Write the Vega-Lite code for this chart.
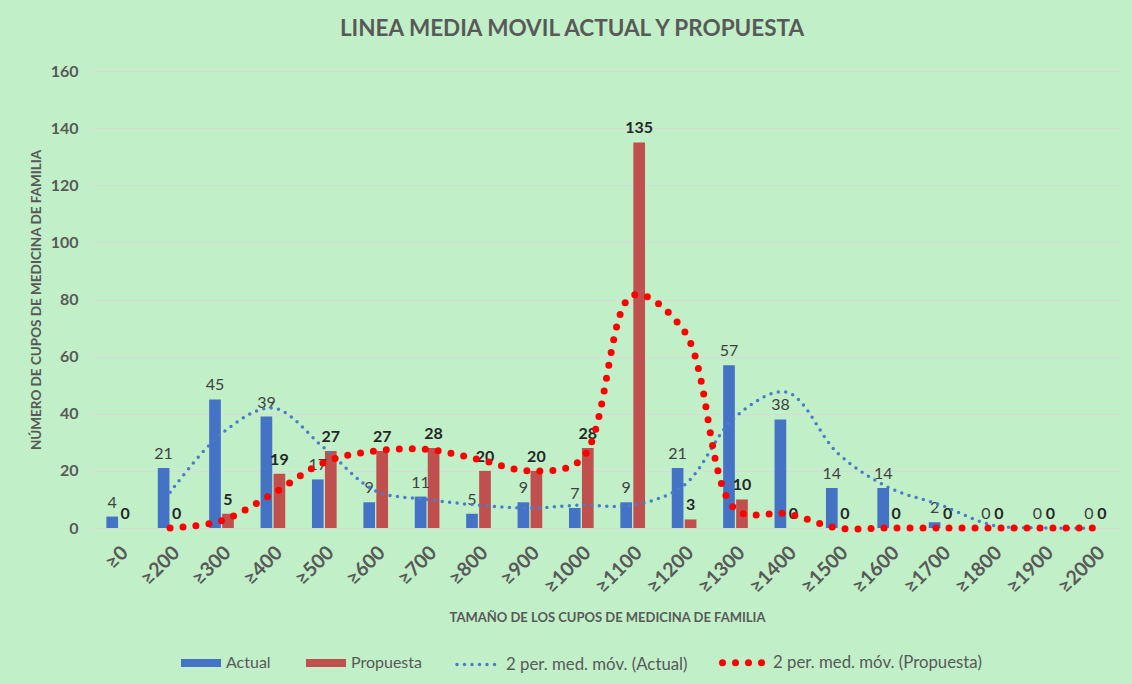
{
  "$schema": "https://vega.github.io/schema/vega-lite/v6.json",
  "width": 1028,
  "height": 457,
  "autosize": {"type": "none"},
  "padding": {"left": 93, "top": 71, "right": 11, "bottom": 156},
  "background": "#c1f0c8",
  "title": {"text": "LINEA MEDIA MOVIL ACTUAL Y PROPUESTA", "fontSize": 22.5, "font": "Lato", "fontWeight": "bold", "color": "#595959", "anchor": "middle", "dx": -35, "offset": 23},
  "config": {
    "view": {"stroke": null},
    "font": "Lato",
    "legend": {"labelFont": "Lato", "labelFontSize": 16, "labelColor": "#595959", "padding": 0, "labelOffset": 5, "labelLimit": 400}
  },
  "datasets": {
    "bars": [
      {"cat": "≥0", "desde": 0, "serie": "Actual", "valor": 4},
      {"cat": "≥0", "desde": 0, "serie": "Propuesta", "valor": 0},
      {"cat": "≥200", "desde": 200, "serie": "Actual", "valor": 21},
      {"cat": "≥200", "desde": 200, "serie": "Propuesta", "valor": 0},
      {"cat": "≥300", "desde": 300, "serie": "Actual", "valor": 45},
      {"cat": "≥300", "desde": 300, "serie": "Propuesta", "valor": 5},
      {"cat": "≥400", "desde": 400, "serie": "Actual", "valor": 39},
      {"cat": "≥400", "desde": 400, "serie": "Propuesta", "valor": 19},
      {"cat": "≥500", "desde": 500, "serie": "Actual", "valor": 17},
      {"cat": "≥500", "desde": 500, "serie": "Propuesta", "valor": 27},
      {"cat": "≥600", "desde": 600, "serie": "Actual", "valor": 9},
      {"cat": "≥600", "desde": 600, "serie": "Propuesta", "valor": 27},
      {"cat": "≥700", "desde": 700, "serie": "Actual", "valor": 11},
      {"cat": "≥700", "desde": 700, "serie": "Propuesta", "valor": 28},
      {"cat": "≥800", "desde": 800, "serie": "Actual", "valor": 5},
      {"cat": "≥800", "desde": 800, "serie": "Propuesta", "valor": 20},
      {"cat": "≥900", "desde": 900, "serie": "Actual", "valor": 9},
      {"cat": "≥900", "desde": 900, "serie": "Propuesta", "valor": 20},
      {"cat": "≥1000", "desde": 1000, "serie": "Actual", "valor": 7},
      {"cat": "≥1000", "desde": 1000, "serie": "Propuesta", "valor": 28},
      {"cat": "≥1100", "desde": 1100, "serie": "Actual", "valor": 9},
      {"cat": "≥1100", "desde": 1100, "serie": "Propuesta", "valor": 135},
      {"cat": "≥1200", "desde": 1200, "serie": "Actual", "valor": 21},
      {"cat": "≥1200", "desde": 1200, "serie": "Propuesta", "valor": 3},
      {"cat": "≥1300", "desde": 1300, "serie": "Actual", "valor": 57},
      {"cat": "≥1300", "desde": 1300, "serie": "Propuesta", "valor": 10},
      {"cat": "≥1400", "desde": 1400, "serie": "Actual", "valor": 38},
      {"cat": "≥1400", "desde": 1400, "serie": "Propuesta", "valor": 0},
      {"cat": "≥1500", "desde": 1500, "serie": "Actual", "valor": 14},
      {"cat": "≥1500", "desde": 1500, "serie": "Propuesta", "valor": 0},
      {"cat": "≥1600", "desde": 1600, "serie": "Actual", "valor": 14},
      {"cat": "≥1600", "desde": 1600, "serie": "Propuesta", "valor": 0},
      {"cat": "≥1700", "desde": 1700, "serie": "Actual", "valor": 2},
      {"cat": "≥1700", "desde": 1700, "serie": "Propuesta", "valor": 0},
      {"cat": "≥1800", "desde": 1800, "serie": "Actual", "valor": 0},
      {"cat": "≥1800", "desde": 1800, "serie": "Propuesta", "valor": 0},
      {"cat": "≥1900", "desde": 1900, "serie": "Actual", "valor": 0},
      {"cat": "≥1900", "desde": 1900, "serie": "Propuesta", "valor": 0},
      {"cat": "≥2000", "desde": 2000, "serie": "Actual", "valor": 0},
      {"cat": "≥2000", "desde": 2000, "serie": "Propuesta", "valor": 0}
    ],
    "medias": [
      {"cat": "≥200", "desde": 200, "media": "2 per. med. móv. (Actual)", "valor": 12.5},
      {"cat": "≥300", "desde": 300, "media": "2 per. med. móv. (Actual)", "valor": 33},
      {"cat": "≥400", "desde": 400, "media": "2 per. med. móv. (Actual)", "valor": 42},
      {"cat": "≥500", "desde": 500, "media": "2 per. med. móv. (Actual)", "valor": 28},
      {"cat": "≥600", "desde": 600, "media": "2 per. med. móv. (Actual)", "valor": 13},
      {"cat": "≥700", "desde": 700, "media": "2 per. med. móv. (Actual)", "valor": 10},
      {"cat": "≥800", "desde": 800, "media": "2 per. med. móv. (Actual)", "valor": 8},
      {"cat": "≥900", "desde": 900, "media": "2 per. med. móv. (Actual)", "valor": 7},
      {"cat": "≥1000", "desde": 1000, "media": "2 per. med. móv. (Actual)", "valor": 8},
      {"cat": "≥1100", "desde": 1100, "media": "2 per. med. móv. (Actual)", "valor": 8},
      {"cat": "≥1200", "desde": 1200, "media": "2 per. med. móv. (Actual)", "valor": 15},
      {"cat": "≥1300", "desde": 1300, "media": "2 per. med. móv. (Actual)", "valor": 39},
      {"cat": "≥1400", "desde": 1400, "media": "2 per. med. móv. (Actual)", "valor": 47.5},
      {"cat": "≥1500", "desde": 1500, "media": "2 per. med. móv. (Actual)", "valor": 26},
      {"cat": "≥1600", "desde": 1600, "media": "2 per. med. móv. (Actual)", "valor": 14},
      {"cat": "≥1700", "desde": 1700, "media": "2 per. med. móv. (Actual)", "valor": 8},
      {"cat": "≥1800", "desde": 1800, "media": "2 per. med. móv. (Actual)", "valor": 1},
      {"cat": "≥1900", "desde": 1900, "media": "2 per. med. móv. (Actual)", "valor": 0},
      {"cat": "≥2000", "desde": 2000, "media": "2 per. med. móv. (Actual)", "valor": 0},
      {"cat": "≥200", "desde": 200, "media": "2 per. med. móv. (Propuesta)", "valor": 0},
      {"cat": "≥300", "desde": 300, "media": "2 per. med. móv. (Propuesta)", "valor": 2.5},
      {"cat": "≥400", "desde": 400, "media": "2 per. med. móv. (Propuesta)", "valor": 12},
      {"cat": "≥500", "desde": 500, "media": "2 per. med. móv. (Propuesta)", "valor": 23},
      {"cat": "≥600", "desde": 600, "media": "2 per. med. móv. (Propuesta)", "valor": 27},
      {"cat": "≥700", "desde": 700, "media": "2 per. med. móv. (Propuesta)", "valor": 27.5},
      {"cat": "≥800", "desde": 800, "media": "2 per. med. móv. (Propuesta)", "valor": 24},
      {"cat": "≥900", "desde": 900, "media": "2 per. med. móv. (Propuesta)", "valor": 20},
      {"cat": "≥1000", "desde": 1000, "media": "2 per. med. móv. (Propuesta)", "valor": 24},
      {"cat": "≥1100", "desde": 1100, "media": "2 per. med. móv. (Propuesta)", "valor": 81.5},
      {"cat": "≥1200", "desde": 1200, "media": "2 per. med. móv. (Propuesta)", "valor": 69},
      {"cat": "≥1300", "desde": 1300, "media": "2 per. med. móv. (Propuesta)", "valor": 6.5},
      {"cat": "≥1400", "desde": 1400, "media": "2 per. med. móv. (Propuesta)", "valor": 5},
      {"cat": "≥1500", "desde": 1500, "media": "2 per. med. móv. (Propuesta)", "valor": 0},
      {"cat": "≥1600", "desde": 1600, "media": "2 per. med. móv. (Propuesta)", "valor": 0},
      {"cat": "≥1700", "desde": 1700, "media": "2 per. med. móv. (Propuesta)", "valor": 0},
      {"cat": "≥1800", "desde": 1800, "media": "2 per. med. móv. (Propuesta)", "valor": 0},
      {"cat": "≥1900", "desde": 1900, "media": "2 per. med. móv. (Propuesta)", "valor": 0},
      {"cat": "≥2000", "desde": 2000, "media": "2 per. med. móv. (Propuesta)", "valor": 0}
    ]
  },
  "encoding": {
    "x": {
      "field": "cat",
      "type": "nominal",
      "scale": {
        "domain": ["≥0", "≥200", "≥300", "≥400", "≥500", "≥600", "≥700", "≥800", "≥900", "≥1000", "≥1100", "≥1200", "≥1300", "≥1400", "≥1500", "≥1600", "≥1700", "≥1800", "≥1900", "≥2000"],
        "paddingInner": 0.52,
        "paddingOuter": 0.26
      },
      "axis": {
        "title": "TAMAÑO DE LOS CUPOS DE MEDICINA DE FAMILIA",
        "titleFont": "Lato",
        "titleFontSize": 13,
        "titleFontWeight": "bold",
        "titleColor": "#595959",
        "titleY": 89,
        "titleBaseline": "middle",
        "labelAngle": -45,
        "labelFont": "Lato",
        "labelFontSize": 19.5,
        "labelFontWeight": "bold",
        "labelColor": "#595959",
        "labelPadding": 15,
        "ticks": false,
        "domain": false,
        "grid": false
      }
    },
    "y": {
      "field": "valor",
      "type": "quantitative",
      "scale": {"domain": [0, 160], "nice": false},
      "axis": {
        "title": "NÚMERO DE CUPOS DE MEDICINA DE FAMILIA",
        "titleFont": "Lato",
        "titleFontSize": 13.5,
        "titleFontWeight": "bold",
        "titleColor": "#595959",
        "titleX": -57,
        "titleBaseline": "middle",
        "values": [0, 20, 40, 60, 80, 100, 120, 140, 160],
        "labelFont": "Lato",
        "labelFontSize": 16,
        "labelFontWeight": "bold",
        "labelColor": "#595959",
        "labelPadding": 15,
        "ticks": false,
        "domain": false,
        "grid": true,
        "gridColor": "#d9d9d9",
        "gridWidth": 1
      }
    }
  },
  "layer": [
    {
      "data": {"name": "bars"},
      "mark": {"type": "bar"},
      "encoding": {
        "xOffset": {"field": "serie", "type": "nominal", "scale": {"domain": ["Actual", "Propuesta"], "paddingInner": 0.1}},
        "color": {
          "field": "serie",
          "type": "nominal",
          "scale": {"domain": ["Actual", "Propuesta"], "range": ["#4472c4", "#c0504d"]},
          "legend": {
            "orient": "none",
            "legendX": 88,
            "legendY": 572,
            "direction": "horizontal",
            "title": null,
            "symbolType": "M-1,-0.2H1V0.2H-1Z",
            "symbolSize": 1600,
            "symbolStrokeWidth": 0,
            "columnPadding": 35
          }
        }
      }
    },
    {
      "data": {"name": "bars"},
      "transform": [{"filter": "datum.serie == 'Actual'"}],
      "mark": {"type": "text", "baseline": "bottom", "dy": -6, "font": "Lato", "fontSize": 16, "color": "#404040"},
      "encoding": {
        "xOffset": {"field": "serie", "type": "nominal", "scale": {"domain": ["Actual", "Propuesta"], "paddingInner": 0.1}},
        "text": {"field": "valor", "type": "quantitative"}
      }
    },
    {
      "data": {"name": "bars"},
      "transform": [{"filter": "datum.serie == 'Propuesta'"}],
      "mark": {"type": "text", "baseline": "bottom", "dy": -6, "font": "Lato", "fontSize": 16, "fontWeight": "bold", "color": "#262626"},
      "encoding": {
        "xOffset": {"field": "serie", "type": "nominal", "scale": {"domain": ["Actual", "Propuesta"], "paddingInner": 0.1}},
        "text": {"field": "valor", "type": "quantitative"}
      }
    },
    {
      "data": {"name": "medias"},
      "mark": {"type": "line", "interpolate": "catmull-rom", "strokeCap": "round"},
      "encoding": {
        "order": {"field": "desde", "type": "quantitative"},
        "stroke": {
          "field": "media",
          "type": "nominal",
          "scale": {"domain": ["2 per. med. móv. (Actual)", "2 per. med. móv. (Propuesta)"], "range": ["#4a7ccc", "#ff0000"]},
          "legend": {
            "orient": "none",
            "legendX": 362,
            "legendY": 568,
            "direction": "horizontal",
            "title": null,
            "symbolType": "stroke",
            "symbolSize": 1600,
            "labelOffset": 7,
            "labelFontSize": 16.8,
            "columnPadding": 20,
            "encode": {"symbols": {"update": {"strokeCap": {"value": "round"}}}}
          }
        },
        "strokeDash": {
          "field": "media",
          "type": "nominal",
          "scale": {"domain": ["2 per. med. móv. (Actual)", "2 per. med. móv. (Propuesta)"], "range": [[0, 7.5], [0, 13]]}
        },
        "strokeWidth": {
          "field": "media",
          "type": "nominal",
          "scale": {"domain": ["2 per. med. móv. (Actual)", "2 per. med. móv. (Propuesta)"], "range": [3.5, 7]}
        }
      }
    }
  ]
}
